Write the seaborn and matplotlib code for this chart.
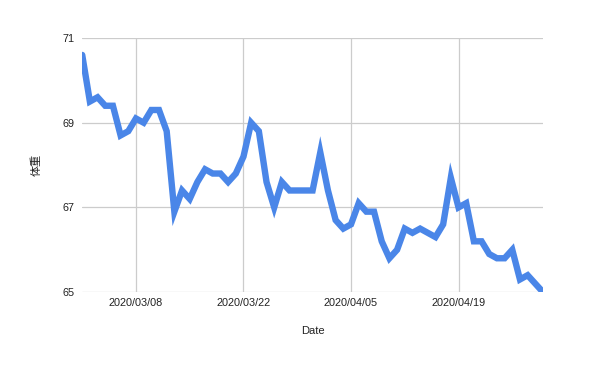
import numpy as np
import pandas as pd
import matplotlib
matplotlib.use("Agg")
import matplotlib.pyplot as plt
import matplotlib.dates as mdates
import seaborn as sns

start_date = "2020-03-01"
weights = [70.6, 69.5, 69.6, 69.4, 69.4, 68.7, 68.8, 69.1, 69.0, 69.3,
           69.3, 68.8, 66.9, 67.4, 67.2, 67.6, 67.9, 67.8, 67.8, 67.6,
           67.8, 68.2, 69.0, 68.8, 67.6, 67.0, 67.6, 67.4, 67.4, 67.4,
           67.4, 68.3, 67.4, 66.7, 66.5, 66.6, 67.1, 66.9, 66.9, 66.2,
           65.8, 66.0, 66.5, 66.4, 66.5, 66.4, 66.3, 66.6, 67.7, 67.0,
           67.1, 66.2, 66.2, 65.9, 65.8, 65.8, 66.0, 65.3, 65.4, 65.2,
           65.0]
dates = pd.date_range(start_date, periods=len(weights), freq="D")
x_ticks = ["2020-03-08", "2020-03-22", "2020-04-05", "2020-04-19"]
y_ticks = [65, 67, 69, 71]
x_label = "Date"
y_label = "体重"

df = pd.DataFrame({"Date": dates, "体重": weights})

sns.set_theme(style="white")
plt.rcParams['font.family'] = ['Liberation Sans', 'Noto Sans CJK JP', 'DejaVu Sans']

fig = plt.figure(figsize=(6, 3.76), dpi=100)
ax = fig.add_axes([0.137, 0.223, 0.768, 0.676])

sns.lineplot(data=df, x="Date", y="体重", ax=ax, color="#4a86e8",
             linewidth=4.6, solid_joinstyle="miter")

ax.set_xlim(dates[0], dates[-1])
ax.set_ylim(65, 71)
ax.set_yticks(y_ticks)
ax.set_xticks(pd.to_datetime(x_ticks))
ax.xaxis.set_major_formatter(mdates.DateFormatter("%Y/%m/%d"))
ax.grid(True, color="#cccccc", linewidth=0.9)
ax.set_axisbelow(True)
for s in ax.spines.values():
    s.set_visible(False)
ax.tick_params(axis="both", length=0, labelsize=7.8, colors="#222222")
ax.tick_params(axis="x", pad=4)
ax.tick_params(axis="y", pad=5.5)
ax.set_xlabel(x_label, fontsize=8, color="#222222", labelpad=13)
ax.set_ylabel(y_label, fontsize=8, color="#222222", labelpad=15)

fig.savefig("out.png", dpi=100, facecolor="white")
